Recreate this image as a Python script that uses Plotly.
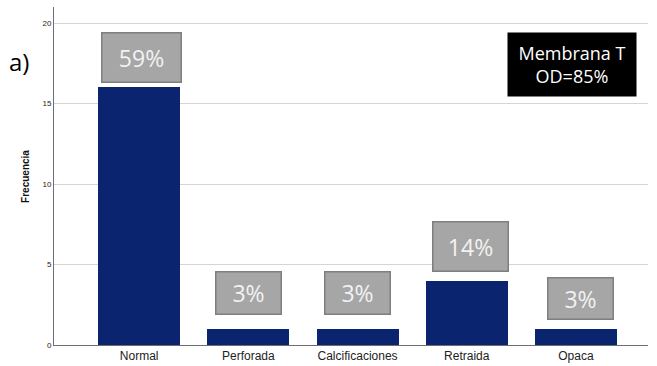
import plotly.graph_objects as go

categories = ["Normal", "Perforada", "Calcificaciones", "Retraida", "Opaca"]
counts = [16, 1, 1, 4, 1]
pct_labels = ["59%", "3%", "3%", "14%", "3%"]
y_ticks = [0, 5, 10, 15, 20]

# label box styling (pixel sizes/offsets)
box_w = [78, 64, 64, 74, 64]
box_h = [48, 41, 41, 48, 40]
box_dy = [4, 14, 14, 9, 9]
box_dx = [2, 0, 0, 4, 5]

fig = go.Figure()
fig.add_trace(go.Bar(
    x=list(range(len(categories))), y=counts, width=0.75,
    marker=dict(color="#0b2470", line=dict(width=0)),
    hoverinfo="skip",
))

for i, (c, lab) in enumerate(zip(counts, pct_labels)):
    fig.add_annotation(
        x=i, y=c, xref="x", yref="y", yanchor="bottom", xanchor="center",
        yshift=box_dy[i], xshift=box_dx[i],
        text=lab, showarrow=False, width=box_w[i], height=box_h[i],
        bgcolor="#a6a6a6", bordercolor="#7f7f7f", borderwidth=1.5, borderpad=0,
        font=dict(family="Open Sans", size=23, color="#f2f2f2"),
    )

fig.add_annotation(
    xref="paper", yref="paper", x=0.982, y=0.925, xanchor="right", yanchor="top",
    text="Membrana T<br>OD=85%", showarrow=False, width=128, height=63,
    bgcolor="#000000", borderpad=0,
    font=dict(family="Open Sans", size=18, color="#ffffff"),
)

fig.add_annotation(
    xref="paper", yref="paper", x=-0.079, y=0.84, xanchor="left", yanchor="middle",
    text="a)", showarrow=False,
    font=dict(family="Open Sans", size=24, color="#000000"),
)

fig.add_annotation(
    xref="paper", yref="paper", x=-0.049, y=0.5, xanchor="center", yanchor="middle",
    text="<b>Frecuencia</b>", textangle=-90, showarrow=False,
    font=dict(family="Liberation Sans", size=10, color="#111111"),
)

fig.update_layout(
    width=657, height=366,
    margin=dict(l=54, r=9, t=7, b=21),
    paper_bgcolor="white", plot_bgcolor="white",
    showlegend=False, bargap=0,
    xaxis=dict(
        range=[-0.78, 4.66], tickmode="array", tickvals=list(range(len(categories))),
        ticktext=categories, showgrid=False, showline=True, linecolor="#6e6e6e",
        linewidth=1, ticks="", tickfont=dict(family="Liberation Sans", size=12, color="#222222"),
        zeroline=False, automargin=False,
    ),
    yaxis=dict(
        range=[0, 21], tickmode="array", tickvals=y_ticks, showgrid=True,
        gridcolor="#d4d4d4", gridwidth=1, showline=True, linecolor="#6e6e6e", linewidth=1,
        ticks="", tickfont=dict(family="Liberation Sans", size=8, color="#222222"),
        zeroline=False, automargin=False,
    ),
)

fig.write_html("out.html", config={"displayModeBar": False},
               post_script="document.body.style.margin='0';document.body.style.overflow='hidden';")
